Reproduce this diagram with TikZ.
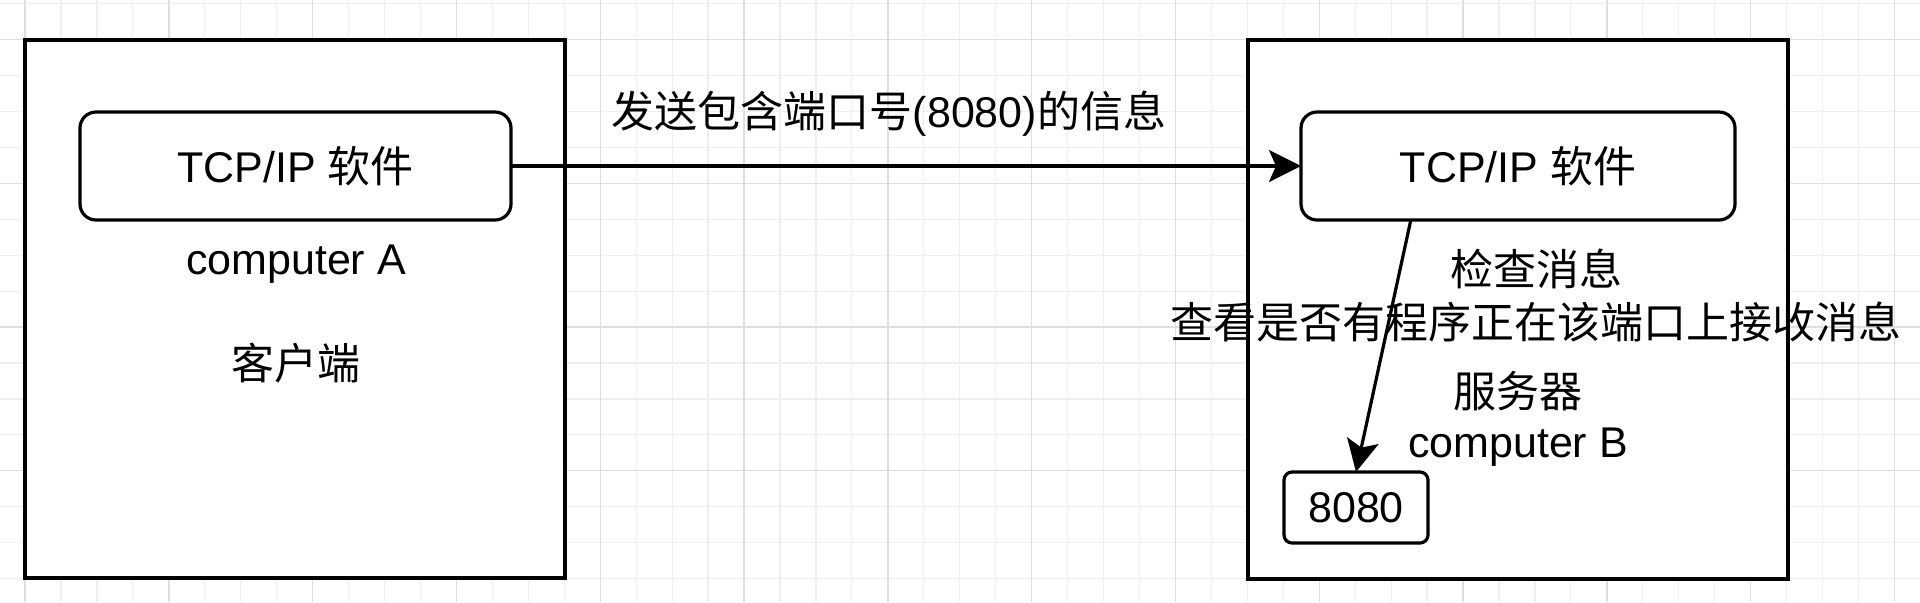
\documentclass[tikz,border=0pt]{standalone}
\usepackage{fontspec}
\setmainfont{Liberation Sans}
\newfontfamily\cjk{Noto Sans CJK SC}
\usetikzlibrary{arrows.meta,calc}
\definecolor{gridminor}{HTML}{EFEFEF}
\definecolor{gridmajor}{HTML}{DFDFDF}
\tikzset{
  gminor/.style={draw=gridminor,line width=0.6pt},
  gmajor/.style={draw=gridmajor,line width=0.7pt},
  outerbox/.style={draw=black,fill=white,line width=1.9pt,rectangle,outer sep=0pt,inner sep=0pt},
  roundbox/.style={draw=black,fill=white,line width=1.6pt,rectangle,rounded corners=8pt,outer sep=0pt,inner sep=0pt},
  portbox/.style={draw=black,fill=white,line width=1.6pt,rectangle,rounded corners=4pt,outer sep=0pt,inner sep=0pt},
  lbl/.style={inner sep=0pt,outer sep=0pt},
  conn/.style={draw=black,line width=1.6pt,-{Stealth[length=16pt,width=16pt,inset=3.5pt]}},
}
\begin{document}
\begin{tikzpicture}[x=0.5pt,y=-0.5pt,font=\fontsize{21.5}{25.8}\selectfont]
\useasboundingbox (0,0) rectangle (1920,602);
\fill[white] (0,0) rectangle (1920,602);
% grid
\foreach \k in {0,...,52} {\draw[gminor] ({25+35.95*\k},0) -- ({25+35.95*\k},602);}
\foreach \k in {-1,...,15} {\draw[gminor] (0,{39.6+35.93*\k}) -- (1920,{39.6+35.93*\k});}
\foreach \k in {0,4,...,52} {\draw[gmajor] ({25+35.95*\k},0) -- ({25+35.95*\k},602);}
\foreach \k in {0,4,...,12} {\draw[gmajor] (0,{39.6+35.93*\k}) -- (1920,{39.6+35.93*\k});}
% computer A
\node[outerbox,minimum width=270pt,minimum height=269pt] (compA) at (295,309) {};
\node[roundbox,minimum width=215.5pt,minimum height=54pt] (tcpA) at (295.5,166) {TCP/IP {\cjk 软件}};
\node[lbl] (lblA1) at (296,264.5) {computer A};
\node[lbl] (lblA2) at (296,363) {\cjk 客户端};
% computer B
\node[outerbox,minimum width=270pt,minimum height=269.5pt] (compB) at (1518,309.5) {};
\node[roundbox,minimum width=217pt,minimum height=54pt] (tcpB) at (1518,166) {TCP/IP {\cjk 软件}};
\node[portbox,minimum width=72pt,minimum height=35.5pt] (port) at (1356,507.5) {8080};
\node[lbl] (lblChk) at (1536,269) {\cjk 检查消息};
\node[lbl] (lblLook) at (1536,322) {\cjk 查看是否有程序正在该端口上接收消息};
\node[lbl] (lblSrv) at (1518,391) {\cjk 服务器};
\node[lbl] (lblB) at (1518,447) {computer B};
% connectors
\draw[conn] (tcpA.east) -- (tcpB.west);
\node[lbl] (lblSend) at (889,114) {{\cjk 发送包含端口号}(8080){\cjk 的信息}};
\coordinate (srcB) at ($(tcpB.south west)!0.253!(tcpB.south east)$);
\draw[conn] (srcB) -- (port.north);
\end{tikzpicture}
\end{document}
